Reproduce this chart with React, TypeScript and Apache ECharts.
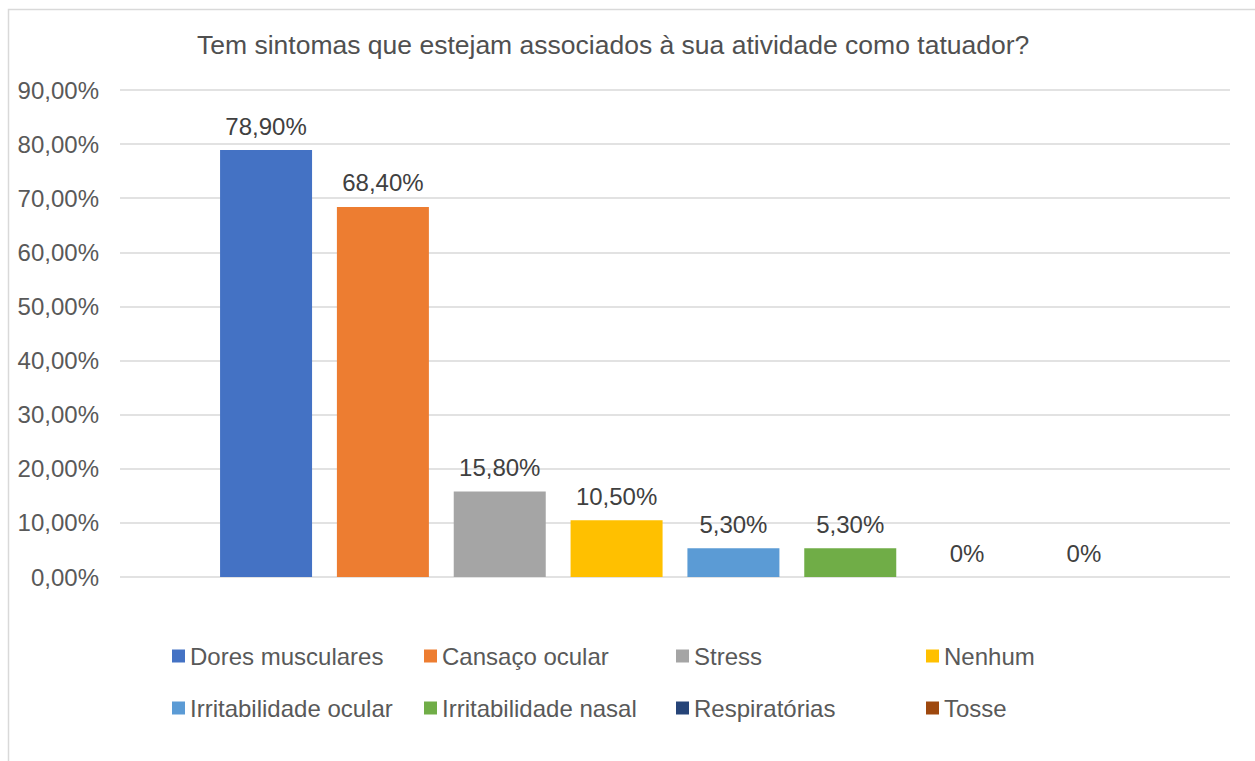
import React, { useEffect, useRef } from "react";
import * as echarts from "echarts";

const titleText = "Tem sintomas que estejam associados à sua atividade como tatuador?";
const seriesNames = [
  "Dores musculares",
  "Cansaço ocular",
  "Stress",
  "Nenhum",
  "Irritabilidade ocular",
  "Irritabilidade nasal",
  "Respiratórias",
  "Tosse",
];
const seriesValues = [78.9, 68.4, 15.8, 10.5, 5.3, 5.3, 0, 0];
const seriesColors = [
  "#4472C4",
  "#ED7D31",
  "#A5A5A5",
  "#FFC000",
  "#5B9BD5",
  "#70AD47",
  "#264478",
  "#9E480E",
];
const yMin = 0;
const yMax = 90;
const yInterval = 10;

const FONT = "'Liberation Sans', Arial, sans-serif";
const TXT = "#595959";

const fmtPct = (v: number) => v.toFixed(2).replace(".", ",") + "%";

const legendCols = [167, 419, 671, 921];
const legendRows = [639, 691];

export default function App() {
  const ref = useRef<HTMLDivElement>(null);
  useEffect(() => {
    if (!ref.current) return;
    const chart = echarts.init(ref.current, undefined, { renderer: "svg" });
    const legends = seriesNames.map((name, i) => ({
      orient: "horizontal" as const,
      left: legendCols[i % 4],
      top: legendRows[Math.floor(i / 4)],
      itemWidth: 13,
      itemHeight: 13,
      itemGap: 5,
      icon: "rect",
      selectedMode: false,
      data: [name],
      textStyle: {
        fontFamily: FONT,
        fontSize: 24,
        color: TXT,
      },
    }));
    chart.setOption({
      animation: false,
      backgroundColor: "#ffffff",
      title: {
        text: titleText,
        left: 192,
        top: 26,
        textStyle: {
          fontFamily: FONT,
          fontSize: 26.5,
          fontWeight: "normal",
          color: "#505050",
        },
      },
      legend: legends,
      grid: { left: 120, right: 25, top: 90, bottom: 184 },
      xAxis: {
        type: "category",
        data: [""],
        axisLine: { show: false },
        axisTick: { show: false },
        axisLabel: { show: false },
      },
      yAxis: {
        type: "value",
        min: yMin,
        max: yMax,
        interval: yInterval,
        axisLine: { show: false },
        axisTick: { show: false },
        axisLabel: {
          fontFamily: FONT,
          fontSize: 24,
          color: TXT,
          margin: 21,
          formatter: (v: number) => fmtPct(v),
        },
        splitLine: { lineStyle: { color: "#D9D9D9", width: 1.5 } },
      },
      graphic: [
        {
          type: "rect",
          shape: { x: 8.5, y: 9.5, width: 1400, height: 900 },
          style: { fill: "none", stroke: "#D9D9D9", lineWidth: 1.5 },
          silent: true,
          z: -1,
        },
      ],
      series: seriesNames.map((name, i) => ({
        name,
        type: "bar",
        barWidth: 92,
        barGap: "27%",
        itemStyle: { color: seriesColors[i] },
        label: {
          show: true,
          position: "top",
          distance: 12,
          fontFamily: FONT,
          fontSize: 24,
          color: "#404040",
          formatter: (p: any) => (p.value === 0 ? "0%" : fmtPct(p.value)),
        },
        data: [seriesValues[i]],
      })),
    });
    return () => chart.dispose();
  }, []);
  return (
    <div
      ref={ref}
      style={{ position: "fixed", left: 0, top: 0, width: 1255, height: 761 }}
    />
  );
}
